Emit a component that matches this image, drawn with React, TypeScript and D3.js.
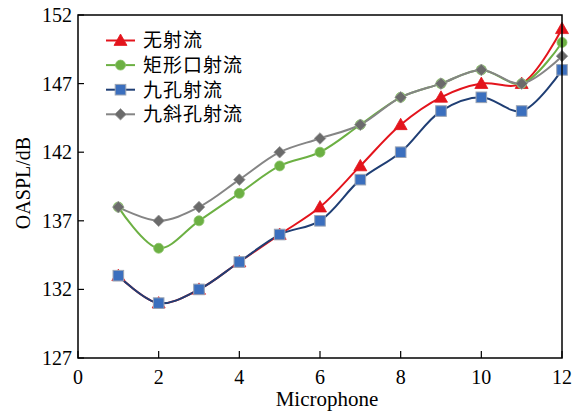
import React from "react";
import * as d3 from "d3";

// Microphone index 1..12
const microphones = [1, 2, 3, 4, 5, 6, 7, 8, 9, 10, 11, 12];

// OASPL (dB) for each configuration
const noJet = [133, 131, 132, 134, 136, 138, 141, 144, 146, 147, 147, 151];
const rectJet = [138, 135, 137, 139, 141, 142, 144, 146, 147, 148, 147, 150];
const nineHoleJet = [133, 131, 132, 134, 136, 137, 140, 142, 145, 146, 145, 148];
const nineSlantJet = [138, 137, 138, 140, 142, 143, 144, 146, 147, 148, 147, 149];

const seriesNames = ["无射流", "矩形口射流", "九孔射流", "九斜孔射流"];

const xTicks = [0, 2, 4, 6, 8, 10, 12];
const yTicks = [127, 132, 137, 142, 147, 152];

type Shape = "triangle" | "circle" | "square" | "diamond";

const seriesStyles: { line: string; fill: string; stroke: string; shape: Shape }[] = [
  { line: "#e3141c", fill: "#e3141c", stroke: "#e3141c", shape: "triangle" },
  { line: "#6cb043", fill: "#6cb043", stroke: "#8cc46a", shape: "circle" },
  { line: "#1f3e74", fill: "#3b6fbe", stroke: "#9aa4b4", shape: "square" },
  { line: "#858585", fill: "#6b6b6b", stroke: "#9a9a9a", shape: "diamond" },
];

const W = 580;
const H = 414;
const left = 78;
const right = 562;
const top = 15;
const bottom = 358;

const serif = "'Liberation Serif', 'Times New Roman', serif";
const cjk = "'Noto Sans CJK SC', sans-serif";

function Marker({ x, y, shape, fill, stroke }: { x: number; y: number; shape: Shape; fill: string; stroke: string }) {
  if (shape === "triangle") {
    const s = 6.5;
    return (
      <path
        d={`M${x},${y - s} L${x + s},${y + s * 0.75} L${x - s},${y + s * 0.75} Z`}
        fill={fill}
        stroke={stroke}
        strokeWidth={0.8}
      />
    );
  }
  if (shape === "circle") {
    return <circle cx={x} cy={y} r={5} fill={fill} stroke={stroke} strokeWidth={0.8} />;
  }
  if (shape === "square") {
    const s = 5.3;
    return <rect x={x - s} y={y - s} width={2 * s} height={2 * s} fill={fill} stroke={stroke} strokeWidth={1} />;
  }
  const s = 5.8;
  return (
    <path
      d={`M${x},${y - s} L${x + s},${y} L${x},${y + s} L${x - s},${y} Z`}
      fill={fill}
      stroke={stroke}
      strokeWidth={0.8}
    />
  );
}

export default function App() {
  const x = d3.scaleLinear().domain([0, 12]).range([left, right]);
  const y = d3.scaleLinear().domain([127, 152]).range([bottom, top]);

  const series = [noJet, rectJet, nineHoleJet, nineSlantJet];

  const line = d3
    .line<number>()
    .x((_, i) => x(microphones[i]))
    .y((v) => y(v))
    .curve(d3.curveCatmullRom.alpha(0.5));

  const legendY0 = 40.5;
  const legendDy = 24.6;

  return (
    <svg width={W} height={H} style={{ position: "absolute", left: 0, top: 0, background: "#fff" }}>
      {/* data lines */}
      {series.map((vals, si) => (
        <path key={`l${si}`} d={line(vals) || ""} fill="none" stroke={seriesStyles[si].line} strokeWidth={2} />
      ))}
      {/* markers */}
      {series.map((vals, si) => (
        <g key={`m${si}`}>
          {vals.map((v, i) => (
            <Marker
              key={i}
              x={x(microphones[i])}
              y={y(v)}
              shape={seriesStyles[si].shape}
              fill={seriesStyles[si].fill}
              stroke={seriesStyles[si].stroke}
            />
          ))}
        </g>
      ))}

      {/* frame */}
      <rect x={left} y={top} width={right - left} height={bottom - top} fill="none" stroke="#000" strokeWidth={1.5} />

      {/* y ticks */}
      {yTicks.map((t) => (
        <g key={`y${t}`}>
          <line x1={left} x2={left + 6} y1={y(t)} y2={y(t)} stroke="#000" strokeWidth={1.2} />
          <text x={left - 6} y={y(t)} dy="0.35em" textAnchor="end" fontFamily={serif} fontSize={20} fill="#000">
            {t}
          </text>
        </g>
      ))}

      {/* x ticks */}
      {xTicks.map((t) => (
        <g key={`x${t}`}>
          <line x1={x(t)} x2={x(t)} y1={bottom} y2={bottom - 7} stroke="#000" strokeWidth={1.2} />
          <text x={x(t)} y={384} textAnchor="middle" fontFamily={serif} fontSize={20} fill="#000">
            {t}
          </text>
        </g>
      ))}

      {/* axis titles */}
      <text x={(left + right) / 2 + 7} y={406} textAnchor="middle" fontFamily={serif} fontSize={21} fill="#000">
        Microphone
      </text>
      <text
        transform={`translate(30, 183) rotate(-90)`}
        textAnchor="middle"
        fontFamily={serif}
        fontSize={20}
        fill="#000"
      >
        OASPL/dB
      </text>

      {/* legend */}
      {seriesNames.map((name, i) => {
        const ly = legendY0 + i * legendDy;
        const st = seriesStyles[i];
        return (
          <g key={`lg${i}`}>
            <line x1={106} x2={135} y1={ly} y2={ly} stroke={st.line} strokeWidth={2} />
            <Marker x={120.5} y={ly} shape={st.shape} fill={st.fill} stroke={st.stroke} />
            <text x={143} y={ly} dy="0.36em" fontFamily={cjk} fontSize={19} letterSpacing={1} fill="#000">
              {name}
            </text>
          </g>
        );
      })}
    </svg>
  );
}
